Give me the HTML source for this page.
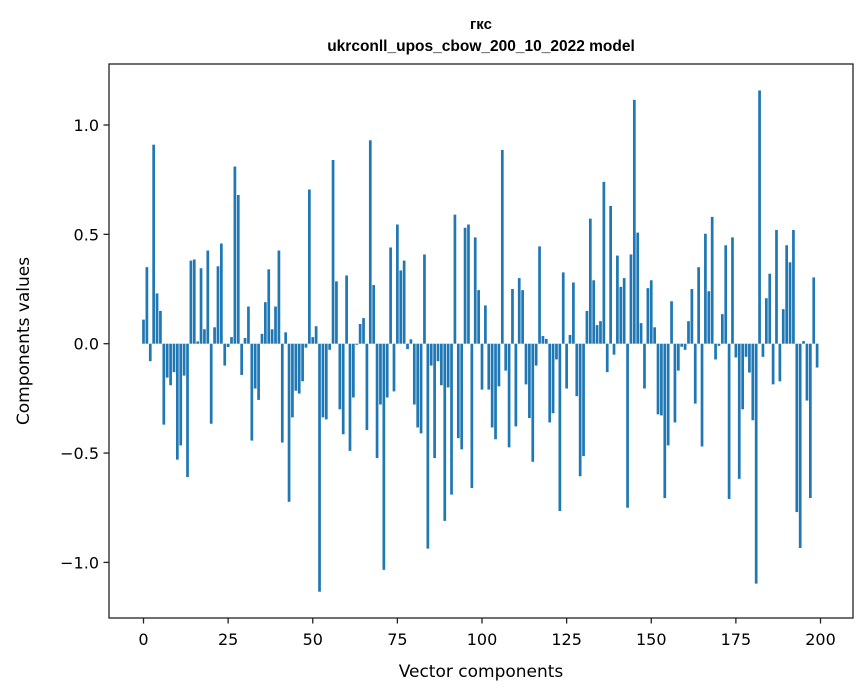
<!DOCTYPE html>
<html><head><meta charset="utf-8"><style>
html,body{margin:0;padding:0;background:#fff;}
svg{display:block;font-family:"DejaVu Sans","Liberation Sans",sans-serif;}
</style></head><body>
<svg id="chart" width="867" height="696" viewBox="0 0 867 696" xmlns="http://www.w3.org/2000/svg">
<rect x="0" y="0" width="867" height="696" fill="#fff"/>
<text x="481" y="29" text-anchor="middle" font-size="15" font-weight="bold" font-family="Liberation Sans, sans-serif">гкс</text>
<text x="481" y="51" text-anchor="middle" font-size="15.5" font-weight="bold" font-family="Liberation Sans, sans-serif">ukrconll_upos_cbow_200_10_2022 model</text>
<g id="bars"></g>
<g id="xticks"></g>
<g id="yticks"></g>
<rect x="109" y="64" width="744" height="554" fill="none" stroke="#222" stroke-width="1.3"/>
<text x="481" y="677" text-anchor="middle" font-size="17">Vector components</text>
<text transform="translate(29,341) rotate(-90)" text-anchor="middle" font-size="17">Components values</text>
</svg>
<script>
const values = [0.11,0.35,-0.08,0.91,0.23,0.15,-0.37,-0.155,-0.19,-0.13,
-0.53,-0.465,-0.146,-0.61,0.38,0.385,0.01,0.345,0.066,0.426,
-0.366,0.075,0.354,0.458,-0.10,-0.015,0.03,0.81,0.68,-0.143,
0.026,0.17,-0.443,-0.205,-0.257,0.045,0.19,0.34,0.066,0.17,
0.426,-0.452,0.052,-0.723,-0.337,-0.215,-0.228,-0.172,-0.018,0.705,
0.03,0.08,-1.134,-0.337,-0.346,-0.028,0.84,0.285,-0.30,-0.414,
0.312,-0.49,-0.246,-0.005,0.09,0.117,-0.395,0.93,0.268,-0.523,
-0.278,-1.034,-0.246,0.44,-0.218,0.545,0.335,0.38,-0.025,0.02,
-0.278,-0.383,-0.41,0.408,-0.937,-0.10,-0.523,-0.08,-0.19,-0.81,
-0.20,-0.69,0.59,-0.432,-0.483,0.53,0.545,-0.66,0.486,0.245,
-0.21,0.175,-0.21,-0.383,-0.437,-0.195,0.886,-0.123,-0.474,0.25,
-0.378,0.30,0.245,-0.186,-0.34,-0.54,-0.10,0.445,0.035,0.022,
-0.36,-0.318,-0.072,-0.765,0.326,-0.205,0.04,0.28,-0.24,-0.606,
-0.514,0.15,0.572,0.29,0.085,0.103,0.74,-0.13,0.63,-0.05,
0.403,0.26,0.30,-0.75,0.408,1.115,0.508,0.094,-0.205,0.254,
0.29,0.075,-0.323,-0.328,-0.706,-0.465,0.194,-0.36,-0.123,-0.014,
-0.028,0.103,0.25,-0.274,0.35,-0.47,0.503,0.24,0.58,-0.072,
-0.01,0.135,0.45,-0.71,0.486,-0.063,-0.618,-0.30,-0.06,-0.132,
-0.35,-1.097,1.158,-0.06,0.208,0.32,-0.186,0.52,-0.172,0.158,
0.45,0.372,0.52,-0.77,-0.934,0.012,-0.26,-0.706,0.303,-0.109];
const xTickLabels = [0,25,50,75,100,125,150,175,200];
const yTickLabels = [-1.0,-0.5,0.0,0.5,1.0];

const NS = "http://www.w3.org/2000/svg";
const x = v => 143.5 + v * 3.385;
const y = v => 343.7 - v * 218.7;

const bars = document.getElementById('bars');
values.forEach((v, i) => {
  const r = document.createElementNS(NS, 'rect');
  const w = 0.8 * 3.385;
  r.setAttribute('x', x(i) - w / 2);
  r.setAttribute('width', w);
  r.setAttribute('y', Math.min(y(v), y(0)));
  r.setAttribute('height', Math.abs(y(v) - y(0)));
  r.setAttribute('fill', '#1f77b4');
  
  
  bars.appendChild(r);
});

const xt = document.getElementById('xticks');
xTickLabels.forEach(t => {
  const l = document.createElementNS(NS, 'line');
  l.setAttribute('x1', x(t)); l.setAttribute('x2', x(t));
  l.setAttribute('y1', 618); l.setAttribute('y2', 623.5);
  l.setAttribute('stroke', '#222'); l.setAttribute('stroke-width', '1.3');
  
  
  xt.appendChild(l);
  const tx = document.createElementNS(NS, 'text');
  tx.setAttribute('x', x(t)); tx.setAttribute('y', 645);
  tx.setAttribute('text-anchor', 'middle'); tx.setAttribute('font-size', '16');
  tx.textContent = String(t);
  
  
  xt.appendChild(tx);
});

const yt = document.getElementById('yticks');
yTickLabels.forEach(t => {
  const l = document.createElementNS(NS, 'line');
  l.setAttribute('x1', 103.5); l.setAttribute('x2', 109);
  l.setAttribute('y1', y(t)); l.setAttribute('y2', y(t));
  l.setAttribute('stroke', '#222'); l.setAttribute('stroke-width', '1.3');
  
  
  yt.appendChild(l);
  const tx = document.createElementNS(NS, 'text');
  tx.setAttribute('x', 99); tx.setAttribute('y', y(t) + 6);
  tx.setAttribute('text-anchor', 'end'); tx.setAttribute('font-size', '16');
  tx.textContent = (t < 0 ? '\u2212' : '') + Math.abs(t).toFixed(1);
  
  
  yt.appendChild(tx);
});
</script>
</body></html>
